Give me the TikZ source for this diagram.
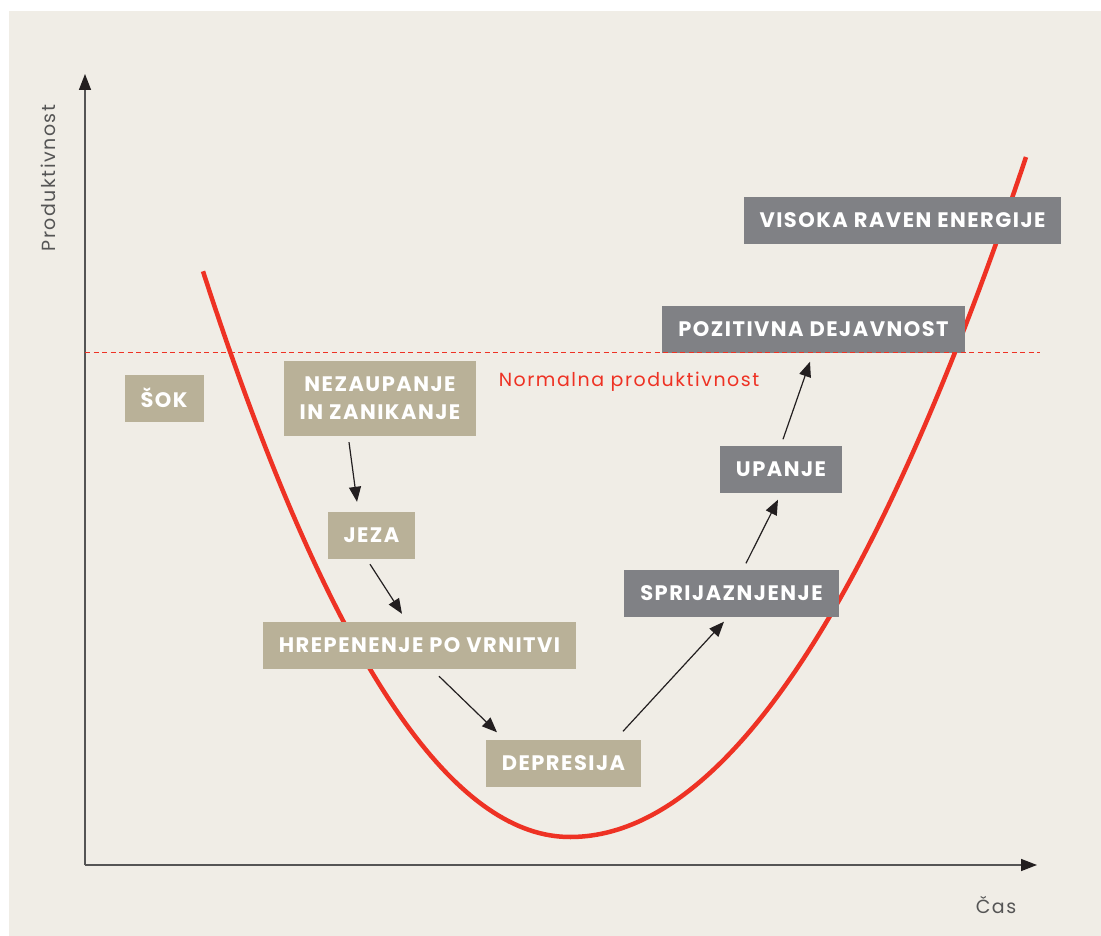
\documentclass[tikz,border=0pt]{standalone}
\usepackage{fontspec}
\setmainfont{Poppins}
\newfontfamily\stagefont[LetterSpace=7]{Poppins}
\newfontfamily\labelfont[LetterSpace=8]{Poppins}
\usetikzlibrary{arrows.meta,calc}
\definecolor{paperbg}{RGB}{240,237,230}
\definecolor{stagetan}{RGB}{185,177,152}
\definecolor{stagegray}{RGB}{128,129,133}
\definecolor{curvered}{RGB}{238,50,36}
\definecolor{axisgray}{RGB}{85,85,85}
\definecolor{inkblack}{RGB}{35,31,32}
\tikzset{
  stage/.style={fill=stagetan,text=white,font=\stagefont\bfseries\fontsize{21}{28}\selectfont,
    inner xsep=16pt,minimum height=47pt,align=center},
  stagedark/.style={stage,fill=stagegray},
  link/.style={draw=inkblack,line width=1.2pt,-{Triangle[length=15pt,width=12pt]}},
  axis/.style={draw=axisgray,line width=1.5pt,-{Triangle[length=16pt,width=12pt,color=inkblack]}},
  axislabel/.style={text=axisgray,font=\labelfont\fontsize{19}{22}\selectfont}
}

\begin{document}
\begin{tikzpicture}[x=1pt,y=-1pt]
  \useasboundingbox (0,0) rectangle (1101,936);
  \fill[paperbg] (9,11) rectangle (1101,936);
  % axes
  \draw[axis] (85,865) -- (85,74);
  \draw[axis] (85,865) -- (1037,865);
  \node[axislabel,rotate=90] (ylab) at (48,178) {Produktivnost};
  \node[axislabel] (xlab) at (996,905) {Čas};
  % productivity curve, steeper on the left of the dip
  \draw[curvered,line width=4.5pt] plot[domain=203:1026,samples=160]
    (\x,{837-(\x<570?42:32.7)*((\x-570)/100)^2});
  % stages
  \node[stage] (shock) at (164,398) {ŠOK};
  \node[stage,minimum height=75pt] (nez) at (380,398.5) {NEZAUPANJE\\IN ZANIKANJE};
  \node[stage] (jeza) at (371.5,535.5) {JEZA};
  \node[stage] (hrep) at (419.5,645.5) {HREPENENJE PO VRNITVI};
  \node[stage] (depr) at (563.5,763) {DEPRESIJA};
  \node[stagedark] (sprij) at (731.5,593) {SPRIJAZNJENJE};
  \node[stagedark] (upanje) at (781,469) {UPANJE};
  \node[stagedark] (pozit) at (813.5,329) {POZITIVNA DEJAVNOST};
  \node[stagedark] (visoka) at (902.5,220.5) {VISOKA RAVEN ENERGIJE};
  % normal level
  \draw[curvered,line width=1pt,dash pattern=on 5pt off 3.5pt] (85,352) -- (1040,352);
  \node[text=curvered,font=\labelfont\fontsize{19}{22}\selectfont] (normal) at (629,382) {Normalna produktivnost};
  % links between stages
  \draw[link] ($(nez.south)+(-31,6)$) -- ($(jeza.north)+(-14.5,-10)$);
  \draw[link] ($(jeza.south)+(-1.5,5)$) -- ($(hrep.north)+(-17.5,-8)$);
  \draw[link] ($(hrep.south)+(19.5,7)$) -- ($(depr.north)+(-66.5,-7)$);
  \draw[link] ($(depr.north)+(59.5,-8)$) -- ($(sprij.south)+(-7.5,5)$);
  \draw[link] ($(sprij.north)+(14.5,-6)$) -- ($(upanje.south)+(-3,7)$);
  \draw[link] ($(upanje.north)+(2,-6)$) -- ($(pozit.south)+(-3.5,9)$);
\end{tikzpicture}
\end{document}
